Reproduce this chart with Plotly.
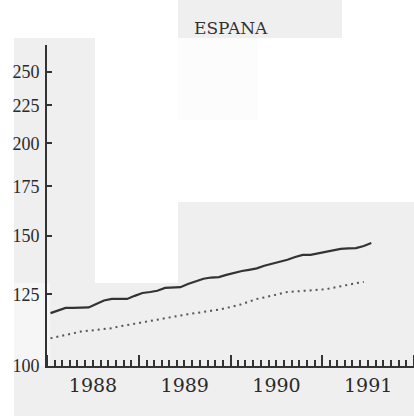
import pandas as pd
import plotly.graph_objects as go

# monthly index values, Jan 1988 - Jul 1991
months = pd.date_range('1988-01-01', periods=43, freq='MS') + pd.Timedelta(days=14)
solid_vals = [117.9, 118.9, 119.8, 119.8, 119.8, 120.0, 121.3, 122.6, 123.2, 123.2,
              123.2, 124.4, 125.5, 125.9, 126.4, 127.5, 127.7, 127.8, 129.1, 130.3,
              131.2, 131.7, 131.9, 132.8, 133.7, 134.4, 134.9, 135.5, 136.6, 137.4,
              138.1, 139.2, 140.4, 141.3, 141.3, 142.0, 142.8, 143.6, 144.0, 144.2,
              144.3, 145.3, 146.6]
dotted_vals = [109.0, 109.6, 110.2, 110.8, 111.3, 111.6, 111.9, 112.2, 112.5, 113.1,
               113.6, 114.1, 114.7, 115.2, 115.7, 116.1, 116.6, 117.1, 117.5, 117.9,
               118.3, 118.7, 119.2, 119.8, 120.5, 121.2, 122.2, 123.2, 123.8, 124.5,
               125.2, 125.9, 126.1, 126.3, 126.4, 126.6, 127.0, 127.6, 128.2, 128.9,
               129.4, 129.9]
y_ticks = [100, 125, 150, 175, 200, 225, 250]
title_text = 'ESPANA'

W, H = 414, 416

def rect(x0, y0, x1, y1, color='#efefef'):
    return dict(type='rect', xref='paper', yref='paper', layer='below',
                x0=x0 / W, x1=x1 / W, y0=1 - y1 / H, y1=1 - y0 / H,
                fillcolor=color, line=dict(width=0))

# blotchy grey background patches of the scanned original
patches = [
    rect(178, 0, 342, 38),
    rect(178, 38, 258, 120, '#fcfcfc'),
    rect(14, 38, 95, 283),
    rect(178, 202, 414, 283),
    rect(50, 283, 414, 416),
    rect(14, 283, 50, 366, '#f6f6f6'),
    rect(14, 366, 50, 416),
]

fig = go.Figure()
fig.add_trace(go.Scatter(x=months, y=solid_vals, mode='lines',
                         line=dict(color='#333333', width=2.2), showlegend=False))
fig.add_trace(go.Scatter(x=months[:len(dotted_vals)], y=dotted_vals, mode='lines',
                         line=dict(color='#555555', width=2, dash='2px,4px'),
                         showlegend=False))

fig.update_layout(
    width=W, height=H,
    margin=dict(l=0, r=0, t=0, b=0, autoexpand=False),
    paper_bgcolor='white',
    plot_bgcolor='rgba(0,0,0,0)',
    shapes=patches,
    annotations=[dict(text=title_text, x=231 / W, y=1 - 28 / H, xref='paper', yref='paper',
                      xanchor='center', yanchor='middle', showarrow=False,
                      font=dict(family='DejaVu Serif', size=17, color='#333333'))],
    xaxis=dict(
        domain=[47 / W, 1], range=['1988-01-01', '1992-01-01'],
        type='date', dtick='M12', tick0='1988-01-01', tickformat='%Y',
        ticklabelmode='period', ticks='inside', ticklen=11, tickwidth=2, tickcolor='#333333',
        minor=dict(dtick='M1', ticks='inside', ticklen=6, tickwidth=1.5, tickcolor='#333333'),
        showline=True, linecolor='#333333', linewidth=2, showgrid=False, zeroline=False,
        ticklabelstandoff=1, automargin=False,
        tickfont=dict(family='DejaVu Serif', size=19, color='#2a2a2a'),
    ),
    yaxis=dict(
        domain=[1 - 366 / H, 1 - 45 / H], type='log', range=[2, 2.4339],
        tickvals=y_ticks, ticktext=[str(v) for v in y_ticks],
        ticks='inside', ticklen=5, tickwidth=1.5, tickcolor='#333333',
        showline=True, linecolor='#333333', linewidth=2, showgrid=False, zeroline=False,
        ticklabelstandoff=2, automargin=False,
        tickfont=dict(family='Liberation Serif', size=18, color='#2a2a2a'),
    ),
)

page_fix = ("document.body.style.margin='0';"
            "document.body.style.overflow='hidden';"
            "document.documentElement.style.overflow='hidden';")
fig.write_html('out.html', config={'displayModeBar': False}, post_script=page_fix)
